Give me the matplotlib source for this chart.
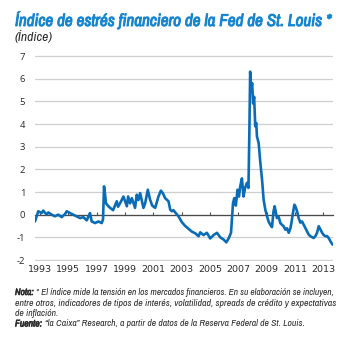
import matplotlib
matplotlib.use("Agg")
import matplotlib.pyplot as plt
from matplotlib import font_manager as fm
from matplotlib import patheffects as pe

# ---------------- data ----------------
years = [1992.65, 1992.77, 1992.88, 1993.12, 1993.23, 1993.47, 1993.59, 1993.83,
         1994.06, 1994.29, 1994.53, 1994.77, 1994.89, 1995.12, 1995.35, 1995.59,
         1995.83, 1996.06, 1996.30, 1996.53, 1996.65, 1996.89, 1997.12, 1997.36,
         1997.45, 1997.52, 1997.59, 1997.66, 1997.83,
         1997.95, 1998.16, 1998.42, 1998.51, 1998.65, 1998.89, 1999.13, 1999.22,
         1999.36, 1999.48, 1999.71, 1999.83, 1999.95, 2000.07, 2000.30, 2000.42,
         2000.61, 2000.77, 2000.92, 2001.13, 2001.36, 2001.53, 2001.67, 2001.83,
         2002.07, 2002.19, 2002.31, 2002.42, 2002.54, 2002.77, 2003.01, 2003.25,
         2003.48, 2003.72, 2003.95, 2004.19, 2004.31, 2004.54, 2004.78, 2005.01,
         2005.25, 2005.49, 2005.72, 2005.96, 2006.15, 2006.31, 2006.48, 2006.62,
         2006.71, 2006.82, 2006.94, 2007.04, 2007.13, 2007.25, 2007.36, 2007.48,
         2007.60, 2007.71, 2007.78, 2007.83, 2007.90, 2007.97, 2008.04, 2008.11,
         2008.19, 2008.26, 2008.31, 2008.43, 2008.55, 2008.67, 2008.78, 2008.90,
         2009.02, 2009.13, 2009.25, 2009.37, 2009.48, 2009.56, 2009.64, 2009.72,
         2009.84, 2009.96, 2010.08, 2010.19, 2010.31, 2010.43, 2010.55, 2010.67,
         2010.74, 2010.83, 2010.95, 2011.02, 2011.14, 2011.25, 2011.37, 2011.49,
         2011.61, 2011.73, 2011.85, 2011.96, 2012.08, 2012.31, 2012.43, 2012.55,
         2012.67, 2012.79, 2012.91, 2013.02, 2013.14, 2013.26, 2013.37, 2013.49,
         2013.64]
values = [-0.30, -0.07, 0.15, 0.07, 0.18, 0.00, 0.10, 0.00,
          -0.07, 0.00, -0.11, 0.03, 0.15, 0.07, 0.00, -0.07,
          -0.15, -0.11, -0.25, 0.07, -0.30, -0.37, -0.30, -0.37,
          -0.20, 1.25, 0.90, 0.50, 0.37,
          0.30, 0.20, 0.59, 0.35, 0.50, 0.80, 0.37, 0.80,
          0.50, 0.73, 0.30, 0.88, 0.65, 0.95, 0.30, 0.50,
          1.10, 0.66, 0.40, 0.30, 0.80, 1.06, 0.95, 0.73,
          0.59, 0.22, 0.15, 0.20, 0.10, -0.07, -0.33, -0.50,
          -0.62, -0.75, -0.82, -0.95, -0.78, -0.90, -0.80, -1.05,
          -0.90, -0.80, -1.00, -1.10, -1.22, -1.05, -0.80, 0.51,
          0.73, 0.40, 1.10, 0.80, 1.25, 1.60, 0.80, 1.20,
          1.40, 1.18, 3.90, 6.31, 5.50, 5.80, 4.90, 5.20,
          3.90, 4.04, 3.45, 3.16, 2.28, 1.54, 0.66, 0.22,
          -0.07, -0.30, -0.44, -0.55, 0.15, 0.37, 0.10, -0.15,
          -0.10, -0.37, -0.45, -0.51, -0.66, -0.60, -0.80, -0.60,
          -0.37, 0.00, 0.44, 0.37, 0.15, -0.15, -0.35, -0.30,
          -0.45, -0.59, -0.75, -0.88, -0.95, -1.03, -0.95, -0.80,
          -0.51, -0.66, -0.80, -0.90, -0.95, -0.95, -1.03, -1.17,
          -1.32]
x_tick_years = [1993, 1995, 1997, 1999, 2001, 2003, 2005, 2007, 2009, 2011, 2013]
y_tick_values = [-2, -1, 0, 1, 2, 3, 4, 5, 6, 7]

title_text = "Índice de estrés financiero de la Fed de St. Louis *"
unit_text = "(Índice)"
note_lines = [
    ("Nota:", "* El índice mide la tensión en los mercados financieros. En su elaboración se incluyen,"),
    ("", "entre otros, indicadores de tipos de interés, volatilidad, spreads de crédito y expectativas"),
    ("", "de inflación."),
    ("Fuente:", "“la Caixa” Research, a partir de datos de la Reserva Federal de St. Louis."),
]

# ---------------- style ----------------
LINE_BLUE = "#0a6cb6"
TITLE_BLUE = "#1585cf"
TEXT = "#2b2b2b"
GRID = "#cfcfcf"

names = {f.name for f in fm.fontManager.ttflist}


def pick(prefs):
    for p in prefs:
        if p in names:
            return p
    return "DejaVu Sans"


def weight_num(w):
    if isinstance(w, str):
        return fm.weight_dict.get(w, 400)
    return w


NARROW = pick(["Archivo Narrow", "Roboto Condensed", "Open Sans Condensed", "PT Sans Narrow",
               "Liberation Sans Narrow", "Liberation Sans"])
BASE = pick(["Open Sans", "Liberation Sans"])
FAM = [NARROW, "DejaVu Sans"]
HAS_BOLD = any(f.name == NARROW and weight_num(f.weight) >= 600 for f in fm.fontManager.ttflist)


def bold_kw(color, lw=0.45):
    # real bold face when the family has one, otherwise a thin stroke in the same colour
    if HAS_BOLD:
        return dict(weight="bold")
    return dict(weight="normal",
                path_effects=[pe.withStroke(linewidth=lw, foreground=color)])


W, H = 350, 338
fig = plt.figure(figsize=(W / 100, H / 100), dpi=100)
fig.patch.set_facecolor("white")

ymin, ymax = -2.05, 7.05
px_per_unit = (260 - 56) / 9.0
ax_top = 56 - (ymax - 7) * px_per_unit
ax_bot = 260 + (-2 - ymin) * px_per_unit
ax = fig.add_axes([35 / W, 1 - ax_bot / H, (332.5 - 35) / W, (ax_bot - ax_top) / H])
ax.set_facecolor("white")

ax.plot(years, values, color=LINE_BLUE, lw=1.9, solid_joinstyle="round",
        solid_capstyle="round", zorder=3)
ax.set_xlim(years[0], years[-1])
ax.set_ylim(ymin, ymax)

ax.set_yticks(y_tick_values)
ax.set_yticklabels([str(v) for v in y_tick_values], family=BASE)
ax.yaxis.grid(True, color=GRID, lw=0.9)
ax.set_axisbelow(True)

ax.set_xticks(x_tick_years)
ax.set_xticklabels([str(y) for y in x_tick_years], family=BASE)

for s in ("left", "right", "top"):
    ax.spines[s].set_visible(False)
ax.spines["bottom"].set_position(("data", 0))
ax.spines["bottom"].set_color("#4a4a4a")
ax.spines["bottom"].set_linewidth(0.9)
ax.spines["bottom"].set_zorder(2)

ax.tick_params(axis="y", length=0, pad=7, labelsize=6.8, labelcolor=TEXT)
ax.tick_params(axis="x", direction="in", length=2.5, width=0.8, color="#4a4a4a",
               pad=36.5, labelsize=6.8, labelcolor=TEXT)

# ---------------- texts ----------------
fig.canvas.draw()
renderer = fig.canvas.get_renderer()


def text_width(s, size, bold=False, style="italic"):
    kw = dict(weight="bold") if (bold and HAS_BOLD) else {}
    t = fig.text(0.1, 0.5, s, family=FAM, fontsize=size, style=style, **kw)
    w = t.get_window_extent(renderer).width
    t.remove()
    return w + (0.5 if (bold and not HAS_BOLD) else 0.0)


# title, fitted to its width in the reference
tw = text_width(title_text, 11, bold=True)
fig.text(15 / W, 1 - 26 / H, title_text, color=TITLE_BLUE, family=FAM,
         style="italic", fontsize=11 * (333 - 15) / tw,
         va="baseline", ha="left", **bold_kw(TITLE_BLUE, 0.65))

uw = text_width(unit_text, 8)
fig.text(15 / W, 1 - 41 / H, unit_text, color=TEXT, family=FAM,
         style="italic", fontsize=8 * (53 - 15) / uw, va="baseline", ha="left")


def line_width(label, body, size):
    w = text_width(body, size)
    if label:
        w += text_width(label + " ", size, bold=True)
    return w


# notes: the two full lines are fitted to the reference width, the rest share their size
note_left, note_right = 15, 336
target = note_right - note_left
sizes = [6.5 * target / line_width(lb, bd, 6.5) for lb, bd in note_lines[:2]]
mean_size = sum(sizes) / len(sizes)
sizes += [mean_size, mean_size]
baselines = [295, 305.5, 316, 326.5]
for (label, body), yb, sz in zip(note_lines, baselines, sizes):
    x = note_left
    if label:
        fig.text(x / W, 1 - yb / H, label, color=TEXT, family=FAM, style="italic",
                 fontsize=sz, va="baseline", ha="left", **bold_kw(TEXT, 0.45))
        x += text_width(label + " ", sz, bold=True)
    fig.text(x / W, 1 - yb / H, body, color=TEXT, family=FAM, style="italic",
             fontsize=sz, va="baseline", ha="left")

fig.savefig("out.png", dpi=100, facecolor="white")
